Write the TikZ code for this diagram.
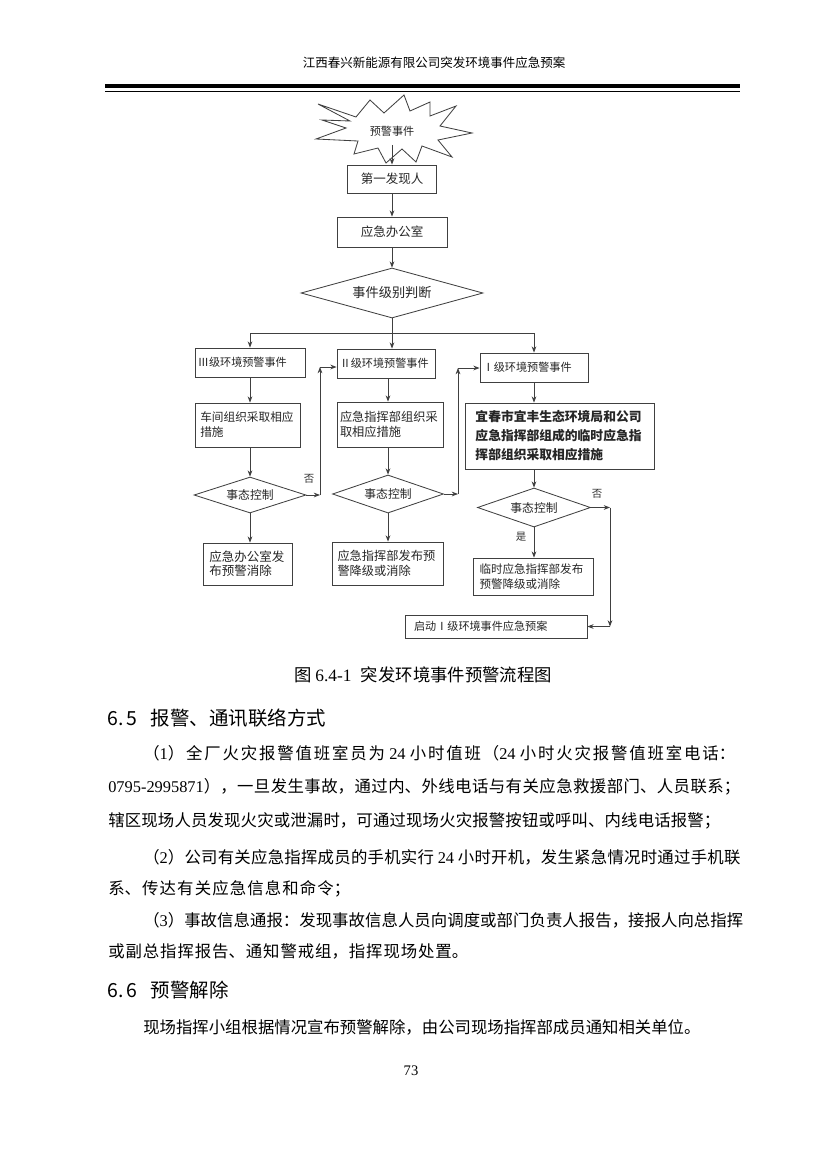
\documentclass[tikz,border=0pt]{standalone}
\usepackage{fontspec}
\setmainfont{Noto Sans CJK SC}
\newfontfamily\tnr{Liberation Serif}
\usetikzlibrary{shapes.geometric, positioning, arrows.meta}
\tikzset{>={Stealth[length=4.5pt,width=3.4pt]}}
\XeTeXlinebreaklocale "zh"
\XeTeXlinebreakskip=0pt plus 4pt
% one justified line of body text
\newcommand{\fullline}[2]{\parbox{#1}{\parfillskip=0pt\parindent=0pt\relax #2}}

\tikzset{
  chartline/.style={draw=black!75, line width=0.6pt},
  chartbox/.style={chartline, rectangle, inner xsep=2pt, inner ysep=0pt, text=black!85, font=\fontsize{8.5}{11}\selectfont, align=left},
  chartdia/.style={chartline, diamond, inner sep=0pt, aspect=3, text=black!85, font=\fontsize{8.5}{11}\selectfont},
  flow/.style={->, chartline},
  tag/.style={inner sep=0pt, text=black!80, font=\fontsize{7.5}{9}\selectfont},
  bodyline/.style={anchor=west, inner sep=0pt, font=\fontsize{11.8}{14}\selectfont},
  headline/.style={anchor=west, inner sep=0pt, font=\fontsize{14}{16}\selectfont},
}

\begin{document}
\begin{tikzpicture}[x=0.72pt, y=-0.72pt]
\useasboundingbox (0,0) rectangle (827,1169);
\fill[white] (0,0) rectangle (827,1169);

% page header
\node[font=\fontsize{9}{11}\selectfont] (head) at (434,63) {江西春兴新能源有限公司突发环境事件应急预案};
\draw[line width=2.6pt] (105,86) -- (740,86);
\draw[line width=0.7pt] (105,91.5) -- (740,91.5);

% alarm burst
\draw[chartline, fill=white] (318,104) -- (356,117) -- (370,100) -- (384,113) -- (404,95) -- (410,111)
  -- (430,102) -- (430,116) -- (456,106) -- (440,126) -- (472,133) -- (438,140) -- (452,157)
  -- (422,146) -- (416,162) -- (402,149) -- (386,163) -- (378,148) -- (354,154) -- (358,141)
  -- (316,139) -- (346,128) -- (322,120) -- (350,121) -- cycle;
\node[inner xsep=0pt, inner ysep=6pt, text=black!85, font=\fontsize{8}{10}\selectfont] (alarm) at (392,131) {预警事件};

% upper chain
\node[chartbox, align=center, minimum width=64.1pt, minimum height=20.2pt, font=\fontsize{9}{11}\selectfont] (finder) at (392,179) {第一发现人};
\node[chartbox, align=center, minimum width=79.2pt, minimum height=21.6pt, font=\fontsize{9}{11}\selectfont] (office) at (392,232) {应急办公室};
\node[chartdia, minimum width=131pt, minimum height=36pt, aspect=3.6, font=\fontsize{9.5}{11}\selectfont] (judge) at (392,293) {事件级别判断};

% three levels
\node[chartbox, minimum width=79.2pt, minimum height=20.9pt, text width=75pt, font=\fontsize{8}{10}\selectfont] (lvlC) at (250,362.5) {Ⅲ级环境预警事件};
\node[chartbox, minimum width=70.6pt, minimum height=20.9pt, text width=66.6pt, font=\fontsize{8}{10}\selectfont] (lvlB) at (386,363.5) {Ⅱ级环境预警事件};
\node[chartbox, minimum width=77.8pt, minimum height=20.9pt, text width=73.8pt, font=\fontsize{8}{10}\selectfont] (lvlA) at (534,367.5) {Ⅰ级环境预警事件};

\node[chartbox, minimum width=75.6pt, minimum height=31.7pt, text width=68pt, font=\fontsize{8.4}{10.8}\selectfont] (actC) at (247.5,425) {车间组织采取相应\\措施};
\node[chartbox, minimum width=76.3pt, minimum height=32.4pt, text width=72pt, font=\fontsize{8.8}{10.5}\selectfont] (actB) at (390,424.5) {应急指挥部组织采\\取相应措施};
\node[chartbox, minimum width=136.1pt, minimum height=47.5pt, text width=121pt, font=\fontsize{9.2}{13.7}\selectfont\bfseries] (actA) at (559.5,436) {宜春市宜丰生态环境局和公司\\应急指挥部组成的临时应急指\\挥部组织采取相应措施};

\node[chartdia, minimum width=80.6pt, minimum height=25.9pt] (ctrlC) at (250,495) {事态控制};
\node[chartdia, minimum width=79.9pt, minimum height=27.4pt] (ctrlB) at (388,494) {事态控制};
\node[chartdia, minimum width=81.4pt, minimum height=28.1pt] (ctrlA) at (534,507.5) {事态控制};

\node[chartbox, minimum width=64.1pt, minimum height=30.2pt, text width=55pt, font=\fontsize{9}{10}\selectfont] (relC) at (247.5,564) {应急办公室发\\布预警消除};
\node[chartbox, minimum width=79.9pt, minimum height=31pt, text width=72pt, font=\fontsize{8.8}{10.5}\selectfont] (relB) at (387.5,563.5) {应急指挥部发布预\\警降级或消除};
\node[chartbox, minimum width=86.4pt, minimum height=26.6pt, text width=77pt, font=\fontsize{8.3}{10.5}\selectfont] (relA) at (533,576.5) {临时应急指挥部发布\\预警降级或消除};
\node[chartbox, minimum width=131pt, minimum height=16.6pt, text width=118pt, font=\fontsize{8}{10}\selectfont] (plan) at (496,626.5) {启动Ⅰ级环境事件应急预案};

% turning points
\coordinate (splitrow) at (0,333);
\coordinate (hopC) at (320,495);
\coordinate (turnC) at (320,367);
\coordinate (hopB) at (458,494);
\coordinate (turnB) at (458,368);
\coordinate (hopA) at (610,507.5);
\coordinate (turnA) at (610,626.5);

% connectors
\draw[flow] (alarm.south) -- (finder.north);
\draw[flow] (finder.south) -- (office.north);
\draw[flow] (office.south) -- (judge.north);
\draw[flow] (judge.south) -- (judge.south |- lvlB.north);
\draw[flow] (judge.south |- splitrow) -| (lvlC.north);
\draw[flow] (judge.south |- splitrow) -| (lvlA.north);

\draw[flow] (lvlC.south -| ctrlC.north) -- (actC.north -| ctrlC.north);
\draw[flow] (actC.south -| ctrlC.north) -- (ctrlC.north);
\draw[flow] (ctrlC.south) -- (relC.north -| ctrlC.south);
\draw[flow] (lvlB.south -| ctrlB.north) -- (actB.north -| ctrlB.north);
\draw[flow] (actB.south -| ctrlB.north) -- (ctrlB.north);
\draw[flow] (ctrlB.south) -- (relB.north -| ctrlB.south);
\draw[flow] (lvlA.south -| ctrlA.north) -- (actA.north -| ctrlA.north);
\draw[flow] (actA.south -| ctrlA.north) -- (ctrlA.north);
\draw[flow] (ctrlA.south) -- (relA.north -| ctrlA.south);

\draw[flow] (ctrlC.east) -- (hopC);
\draw[flow] (hopC) -- (turnC);
\draw[flow] (turnC) -- (turnC -| lvlB.west);
\draw[flow] (ctrlB.east) -- (hopB);
\draw[flow] (hopB) -- (turnB);
\draw[flow] (turnB) -- (turnB -| lvlA.west);
\draw[flow] (ctrlA.east) -- (hopA);
\draw[flow] (hopA) -- (turnA);
\draw[flow] (turnA) -- (plan.east);

\node[tag] (noC) at (309,479) {否};
\node[tag] (noA) at (597,494) {否};
\node[tag] (yesA) at (521,537) {是};

% caption and text
\node[font=\fontsize{12.5}{14}\selectfont] (caption) at (423,675) {图 {\tnr 6.4-1}\hspace{4pt} 突发环境事件预警流程图};

\node[headline] (sec65) at (107,718) {6.\hspace{2pt}5\hspace{10pt}报警、通讯联络方式};
\node[bodyline] (lineA) at (143,753) {\fullline{426.2pt}{（{\tnr 1}）全厂火灾报警值班室员为 {\tnr 24} 小时值班（{\tnr 24} 小时火灾报警值班室电话：}};
\node[bodyline] (lineB) at (108,787) {\fullline{455pt}{{\tnr 0795-2995871}），一旦发生事故，通过内、外线电话与有关应急救援部门、人员联系；}};
\node[bodyline] (lineC) at (108,821) {\fullline{440.6pt}{辖区现场人员发现火灾或泄漏时，可通过现场火灾报警按钮或呼叫、内线电话报警；}};
\node[bodyline] (lineD) at (143,857) {\fullline{430pt}{（{\tnr 2}）公司有关应急指挥成员的手机实行 {\tnr 24} 小时开机，发生紧急情况时通过手机联}};
\node[bodyline] (lineE) at (108,889) {\fullline{174.2pt}{系、传达有关应急信息和命令；}};
\node[bodyline] (lineF) at (143,920) {\fullline{432pt}{（{\tnr 3}）事故信息通报：发现事故信息人员向调度或部门负责人报告，接报人向总指挥}};
\node[bodyline] (lineG) at (108,951) {\fullline{259.2pt}{或副总指挥报告、通知警戒组，指挥现场处置。}};
\node[headline] (sec66) at (107,990) {6.\hspace{2pt}6\hspace{10pt}预警解除};
\node[bodyline] (lineH) at (143,1027) {现场指挥小组根据情况宣布预警解除，由公司现场指挥部成员通知相关单位。};

\node[font=\fontsize{10.5}{12}\selectfont\tnr] (pageno) at (411,1071) {73};
\end{tikzpicture}
\end{document}
